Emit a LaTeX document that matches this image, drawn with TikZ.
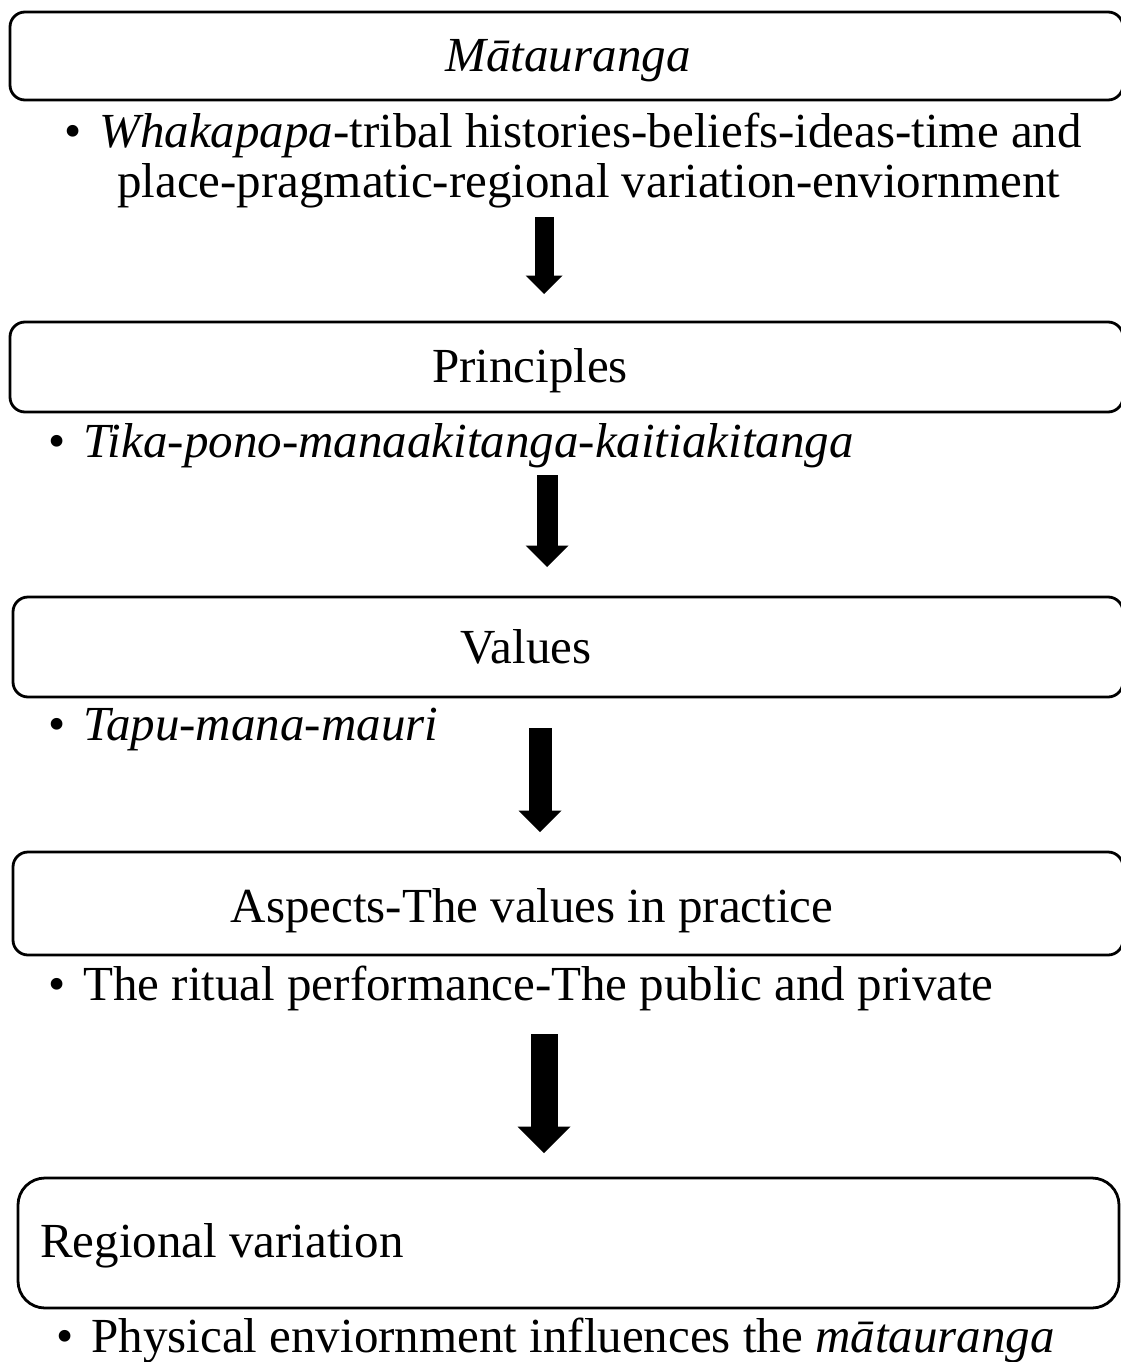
\documentclass[tikz,border=0pt]{standalone}
\usepackage{fontspec}
\setmainfont{Liberation Serif}
\usetikzlibrary{arrows.meta}

\tikzset{
  box/.style={draw, line width=2.8pt, rounded corners=15pt},
  head/.style={anchor=base, inner sep=0pt, font=\fontsize{49}{50}\selectfont},
  note/.style={anchor=base west, inner sep=0pt, align=left, font=\fontsize{49}{50}\selectfont},
  down/.style={-{Triangle[width=#1, length=0.5*#1, line width=0pt]}}
}

\begin{document}
\begin{tikzpicture}[x=1pt, y=-1pt]
\useasboundingbox (0, 0) rectangle (1121, 1362);

% boxes
\draw [box] (10, 12) rectangle (1123, 100);
\draw [box] (10, 322) rectangle (1123, 412);
\draw [box] (13, 597) rectangle (1123, 697);
\draw [box] (13, 852) rectangle (1123, 955);
\draw [box, rounded corners=27pt] (18, 1178) rectangle (1119, 1308);

% titles and notes
\node [head] (mat) at (568, 72) {\textit{Mātauranga}};
\node [note] (matnote) at (64, 197) {\textbullet\hspace{18pt}\textit{Whakapapa}-tribal histories-beliefs-ideas-time and\\
  \hspace{53pt}place-pragmatic-regional variation-enviornment};

\node [head] (prin) at (530, 382) {Principles};
\node [note] (prinnote) at (48, 457) {\textbullet\hspace{18pt}\textit{Tika-pono-manaakitanga-kaitiakitanga}};

\node [head] (val) at (526, 663) {Values};
\node [note] (valnote) at (48, 740) {\textbullet\hspace{18pt}\textit{Tapu-mana-mauri}};

\node [head] (asp) at (532, 922) {Aspects-The values in practice};
\node [note] (aspnote) at (48, 1000) {\textbullet\hspace{18pt}The ritual performance-The public and private};

\node [note] (reg) at (40, 1257) {Regional variation};
\node [note] (regnote) at (56, 1352) {\textbullet\hspace{18pt}Physical enviornment influences the \textit{mātauranga}};

% arrows
\coordinate (a1) at (544, 217);
\coordinate (b1) at (544, 294);
\coordinate (a2) at (547, 475);
\coordinate (b2) at (547, 567);
\coordinate (a3) at (540, 728);
\coordinate (b3) at (540, 832);
\coordinate (a4) at (544, 1034);
\coordinate (b4) at (544, 1153);

\draw [down=37pt, line width=19pt] (a1) -- (b1);
\draw [down=43pt, line width=21pt] (a2) -- (b2);
\draw [down=43pt, line width=23pt] (a3) -- (b3);
\draw [down=53pt, line width=27pt] (a4) -- (b4);
\end{tikzpicture}
\end{document}
